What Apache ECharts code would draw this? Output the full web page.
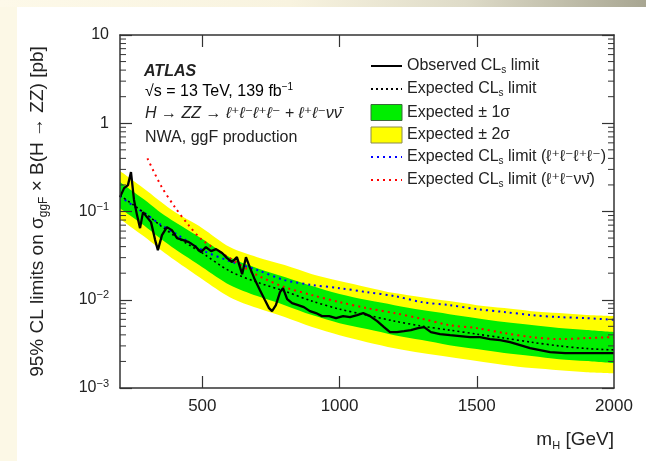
<!DOCTYPE html>
<html><head><meta charset="utf-8">
<script src="https://cdn.jsdelivr.net/npm/echarts@6/dist/echarts.min.js"></script>
<style>
html,body{margin:0;padding:0;}
#wrap{position:relative;width:646px;height:461px;background:#fcf8e6;overflow:hidden;}
#topbar{position:absolute;left:0;top:0;width:646px;height:7px;background:linear-gradient(to right,#fdf9e9 0%,#f8f3df 45%,#dedbc8 72%,#a8a692 100%);}
#panel{position:absolute;left:17px;top:7px;right:0;bottom:0;background:#fff;}
#chart{position:absolute;left:0;top:0;width:646px;height:461px;}
</style></head><body>
<div id="wrap"><div id="topbar"></div><div id="panel"></div><div id="chart"></div></div>
<script>
// ---- data (mass in GeV, limits in pb) ----
const massBand = [200,250,300,350,400,500,600,700,800,900,1000,1100,1200,1300,1400,1500,1600,1700,1800,1900,2000];
const expectedLimit = [0.153,0.118,0.091,0.0683,0.0526,0.0338,0.0211,0.0158,0.0125,0.00965,0.00783,0.0067,0.00573,0.00503,0.00453,0.00408,0.00368,0.0033,0.0030,0.0028,0.0027];
const oneSigmaUp = [0.216,0.166,0.128,0.0959,0.0758,0.0487,0.0304,0.0228,0.0181,0.0143,0.0116,0.00991,0.00869,0.00763,0.00687,0.00619,0.00558,0.00516,0.00477,0.00453,0.0043];
const oneSigmaDown = [0.109,0.0842,0.0648,0.0487,0.0375,0.0234,0.0147,0.011,0.00869,0.0067,0.00543,0.00465,0.00397,0.00349,0.00306,0.00276,0.00249,0.0023,0.00212,0.00202,0.00191];
const twoSigmaUp = [0.288,0.222,0.170,0.128,0.0984,0.0648,0.0395,0.0304,0.0247,0.0195,0.0163,0.0139,0.0119,0.0107,0.00965,0.00869,0.00804,0.00743,0.00706,0.0067,0.00652];
const twoSigmaDown = [0.082,0.0632,0.0487,0.0365,0.0281,0.0171,0.0107,0.00804,0.00636,0.0049,0.00397,0.00331,0.00283,0.00249,0.00224,0.00202,0.00182,0.00168,0.00159,0.00151,0.00147];
const expected4l = [0.1494,0.1151,0.091,0.0701,0.0569,0.0365,0.0274,0.0217,0.0167,0.0147,0.01354,0.0122,0.011,0.0094,0.00869,0.00783,0.00726,0.0067,0.00636,0.00619,0.00593];
const massRed = [300,350,400,450,500,600,700,800,900,1000,1100,1200,1300,1400,1500,1600,1700,1800,1900,2000];
const expected2l2v = [0.40,0.1945,0.1121,0.0701,0.0474,0.0296,0.019,0.0139,0.01129,0.0094,0.00804,0.00706,0.00609,0.00516,0.00477,0.00419,0.00377,0.00358,0.00368,0.00377];
const massObs = [200,215,229,240,251,262,273,284,298,313,328,338,353,371,389,408,430,451,473,495,513,532,550,572,590,608,626,645,659,674,692,710,728,743,754,768,783,794,809,827,849,870,892,914,936,962,987,1013,1038,1064,1086,1111,1137,1162,1184,1209,1235,1260,1286,1308,1333,1366,1403,1439,1475,1512,1548,1585,1621,1658,1694,1730,1767,1822,1876,1938,2000];
const observedLimit = [0.1455,0.184,0.199,0.2795,0.135,0.091,0.0648,0.0984,0.0864,0.0758,0.0474,0.0365,0.054,0.0665,0.0615,0.0499,0.0474,0.045,0.0405,0.0347,0.0395,0.0356,0.0375,0.0338,0.0296,0.0268,0.0304,0.0195,0.0304,0.0228,0.0167,0.0128,0.00991,0.00804,0.00743,0.00869,0.0122,0.01354,0.01017,0.00916,0.00869,0.00825,0.00743,0.00706,0.00652,0.00652,0.00619,0.00652,0.00636,0.0067,0.00706,0.00652,0.00573,0.0049,0.0043,0.0043,0.00441,0.00453,0.00477,0.0049,0.0043,0.00408,0.00397,0.00387,0.00377,0.00377,0.00358,0.00349,0.00331,0.00306,0.00283,0.00269,0.00255,0.00249,0.00249,0.00249,0.00249];
const xTicks = [500,1000,1500];
const xLabels = [500,1000,1500,2000];
const minorTickValues = [0.002,0.003,0.004,0.005,0.006,0.007,0.008,0.009,0.02,0.03,0.04,0.05,0.06,0.07,0.08,0.09,0.2,0.3,0.4,0.5,0.6,0.7,0.8,0.9,2,3,4,5,6,7,8,9];
const X_MIN = 200, X_MAX = 2000, Y_MIN = 0.001, Y_MAX = 10;

const FONT = "'Liberation Sans', Arial, 'DejaVu Sans', sans-serif";
const TXT = '#222';
const AX = '#333';
const GREEN = '#00ee00', YELLOW = '#ffff00';

const pair = (xs, ys) => xs.map((x, i) => [x, ys[i]]);

const supSub = {
  n: {fontSize: 16, color: TXT, fontFamily: FONT, lineHeight: 19},
  s: {fontSize: 10, color: TXT, fontFamily: FONT, verticalAlign: 'bottom', lineHeight: 19},
  e: {fontSize: 10, color: TXT, fontFamily: FONT, verticalAlign: 'top', lineHeight: 19}
};

const legendText = {
  'Observed': '{n|Observed CL}{s|s}{n| limit}',
  'Expected': '{n|Expected CL}{s|s}{n| limit}',
  'Expected ± 1σ': '{n|Expected ± 1σ}',
  'Expected ± 2σ': '{n|Expected ± 2σ}',
  'Expected 4l': '{n|Expected CL}{s|s}{n| limit (ℓ⁺ℓ⁻ℓ⁺ℓ⁻)}',
  'Expected 2l2v': '{n|Expected CL}{s|s}{n| limit (ℓ⁺ℓ⁻νν̄)}'
};

const chart = echarts.init(document.getElementById('chart'), null, {renderer: 'canvas'});
const axisLine = {show: true, onZero: false, lineStyle: {color: AX, width: 1.5}};

function bandArea(name, xs, ys, color, z) {
  return {name: name, type: 'line', data: pair(xs, ys), symbol: 'none', smooth: 0.3, silent: true,
          lineStyle: {opacity: 0}, itemStyle: {color: color},
          areaStyle: {color: color, opacity: 1, origin: 'start'}, z: z};
}

chart.setOption({
  animation: false,
  backgroundColor: 'transparent',
  grid: {left: 120, right: 32, top: 35, bottom: 73, containLabel: false},
  xAxis: [{
    type: 'value', min: X_MIN, max: X_MAX, position: 'bottom', z: 5,
    axisLine: axisLine,
    axisTick: {inside: true, length: 12, customValues: xTicks, lineStyle: {color: AX, width: 1.2}},
    axisLabel: {customValues: xLabels, margin: 10, fontSize: 17, color: TXT, fontFamily: FONT,
                formatter: function (v) { return String(v); }},
    splitLine: {show: false},
    name: '{a|m}{b|H}{a| [GeV]}', nameLocation: 'end', nameGap: 0,
    nameTextStyle: {align: 'right', verticalAlign: 'top', padding: [41, 0, 0, 0],
      rich: {a: {fontSize: 19, color: TXT, fontFamily: FONT, lineHeight: 22},
             b: {fontSize: 11, color: TXT, fontFamily: FONT, verticalAlign: 'bottom', lineHeight: 22}}}
  }, {
    type: 'value', min: X_MIN, max: X_MAX, position: 'top', z: 5,
    axisLine: axisLine,
    axisTick: {inside: true, length: 12, customValues: xTicks, lineStyle: {color: AX, width: 1.2}},
    axisLabel: {show: false}, splitLine: {show: false}
  }],
  yAxis: [{
    type: 'log', logBase: 10, min: Y_MIN, max: Y_MAX, position: 'left', z: 5,
    axisLine: axisLine,
    axisTick: {inside: true, length: 12, lineStyle: {color: AX, width: 1.2}},
    axisLabel: {
      margin: 11, color: TXT, fontFamily: FONT,
      formatter: function (v) {
        if (v >= 9.99) return '{n|10}';
        if (Math.abs(v - 1) < 1e-6) return '{n|1}';
        const e = Math.round(Math.log10(v));
        return '{n|10}{e|−' + Math.abs(e) + '}';
      },
      rich: {n: {fontSize: 16, color: TXT, fontFamily: FONT, lineHeight: 20},
             e: {fontSize: 11, color: TXT, fontFamily: FONT, verticalAlign: 'top', lineHeight: 20}}
    },
    splitLine: {show: false},
    name: '{a|95% CL limits on σ}{b|ggF}{a| × B(H → ZZ) [pb]}',
    nameLocation: 'middle', nameGap: 70, nameRotate: 90,
    nameTextStyle: {rich: {a: {fontSize: 19, color: TXT, fontFamily: FONT, lineHeight: 24},
                           b: {fontSize: 12, color: TXT, fontFamily: FONT, verticalAlign: 'bottom', lineHeight: 24}}}
  }, {
    type: 'log', logBase: 10, min: Y_MIN, max: Y_MAX, position: 'right', z: 5,
    axisLine: axisLine,
    axisTick: {inside: true, length: 12, lineStyle: {color: AX, width: 1.2}},
    axisLabel: {show: false}, splitLine: {show: false}
  }],
  legend: {
    orient: 'vertical', left: 370, top: 58, padding: 0, itemWidth: 31, itemHeight: 16, itemGap: 5.5,
    selectedMode: false,
    textStyle: {fontSize: 16, color: TXT, fontFamily: FONT, rich: supSub},
    formatter: function (name) { return legendText[name] || name; },
    data: [
      {name: 'Observed', itemStyle: {opacity: 0}},
      {name: 'Expected', itemStyle: {opacity: 0}},
      {name: 'Expected ± 1σ', icon: 'rect', itemStyle: {color: GREEN, borderColor: '#3a6a3a', borderWidth: 1}},
      {name: 'Expected ± 2σ', icon: 'rect', itemStyle: {color: YELLOW, borderColor: '#8a8a50', borderWidth: 1}},
      {name: 'Expected 4l', itemStyle: {opacity: 0}},
      {name: 'Expected 2l2v', itemStyle: {opacity: 0}}
    ]
  },
  series: [
    bandArea('Expected ± 2σ', massBand, twoSigmaUp, YELLOW, 1),
    bandArea('Expected ± 1σ', massBand, oneSigmaUp, GREEN, 1),
    bandArea('band1lo', massBand, oneSigmaDown, YELLOW, 1),
    bandArea('band2lo', massBand, twoSigmaDown, '#ffffff', 1),
    {name: 'Expected 4l', type: 'line', data: pair(massBand, expected4l), symbol: 'none', smooth: 0.3,
     lineStyle: {color: '#0000ff', width: 2, type: [2, 4]}, itemStyle: {color: '#0000ff'}, z: 3},
    {name: 'Expected 2l2v', type: 'line', data: pair(massRed, expected2l2v), symbol: 'none', smooth: 0.3,
     lineStyle: {color: '#ff0000', width: 2, type: [2, 4]}, itemStyle: {color: '#ff0000'}, z: 3},
    {name: 'Expected', type: 'line', data: pair(massBand, expectedLimit), symbol: 'none', smooth: 0.3,
     lineStyle: {color: '#000', width: 1.6, type: [2, 3]}, itemStyle: {color: '#000'}, z: 4},
    {name: 'Observed', type: 'line', data: pair(massObs, observedLimit), symbol: 'none',
     lineStyle: {color: '#000', width: 2.3}, itemStyle: {color: '#000'}, z: 4},
    {name: 'minorTicks', type: 'custom', silent: true, z: 6, clip: false,
     data: minorTickValues.map(v => [X_MIN, v]), encode: {x: 0, y: 1},
     renderItem: function (params, api) {
       const v = api.value(1);
       const l = api.coord([X_MIN, v]);
       const r = api.coord([X_MAX, v]);
       return {type: 'group', children: [
         {type: 'line', shape: {x1: l[0], y1: l[1], x2: l[0] + 6, y2: l[1]}, style: {stroke: AX, lineWidth: 1}},
         {type: 'line', shape: {x1: r[0] - 6, y1: r[1], x2: r[0], y2: r[1]}, style: {stroke: AX, lineWidth: 1}}
       ]};
     }}
  ],
  graphic: [
    {type: 'text', x: 144, y: 72, style: {text: 'ATLAS', font: 'italic bold 16px ' + FONT, fill: TXT, verticalAlign: 'middle'}},
    {type: 'text', x: 145, y: 92, style: {text: '{n|√s = 13 TeV, 139 fb}{e|−1}', verticalAlign: 'middle', rich: supSub}},
    {type: 'text', x: 145, y: 114, style: {text: 'H → ZZ → ℓ⁺ℓ⁻ℓ⁺ℓ⁻ + ℓ⁺ℓ⁻νν̄', font: 'italic 16px ' + FONT, fill: TXT, verticalAlign: 'middle'}},
    {type: 'text', x: 145, y: 138, style: {text: 'NWA, ggF production', font: '16px ' + FONT, fill: TXT, verticalAlign: 'middle'}}
  ]
});
</script>
</body></html>
